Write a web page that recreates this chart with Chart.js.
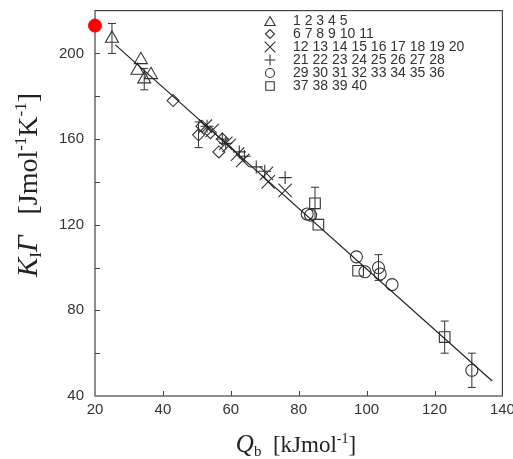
<!DOCTYPE html>
<html>
<head>
<meta charset="utf-8">
<script src="https://cdn.jsdelivr.net/npm/chart.js@4.4.1/dist/chart.umd.min.js"></script>
<style>
body{margin:0;background:#fff}
#wrap{width:513px;height:459px}
</style>
</head>
<body>
<div id="wrap"><canvas id="myScatter"></canvas></div>
<script>
// data (Qb, K1*Gamma)
const triX = [25, 32.5, 33.5, 34.5, 36.5];
const triY = [207, 192, 197, 188, 190];
const triErr = [7, 0, 0, 5, 0];

const diaX = [43, 50.5, 51.5, 54, 56.5, 57.5];
const diaY = [178, 162, 166, 163, 154, 160];
const diaErr = [0, 6, 0, 0, 0, 0];

const crossX = [52.5, 54.5, 58.5, 59.5, 62, 63.5, 70.5, 71, 76];
const crossY = [166, 164, 158, 157, 153, 150, 144, 140, 136];

const plusX = [53, 57.5, 58.5, 62.5, 64, 67.5, 70, 76];
const plusY = [166, 160, 158, 154, 152, 147, 145, 142];

const circX = [82.5, 83.5, 97, 99.5, 103.5, 104, 107.5, 131];
const circY = [125, 124.5, 105, 98, 100, 97, 92, 52];
const circErr = [0, 0, 0, 0, 6, 0, 0, 8];

const sqX = [84.8, 85.8, 97.5, 123];
const sqY = [130, 120, 98.5, 67.5];
const sqErr = [7.5, 0, 0, 7.5];

const fitX = [26, 137];
const fitY = [204, 47];

const markX = [20];
const markY = [213];

const legendRows = ['1 2 3 4 5', '6 7 8 9 10 11', '12 13 14 15 16 17 18 19 20',
    '21 22 23 24 25 26 27 28', '29 30 31 32 33 34 35 36', '37 38 39 40'];
const legendStyles = ['triangle', 'rectRot', 'crossRot', 'cross', 'circle', 'rect'];

const xTickVals = [20, 40, 60, 80, 100, 120, 140];
const yLabelVals = [40, 80, 120, 160, 200];

const pts = (xs, ys) => xs.map((x, i) => ({x: x, y: ys[i]}));

const INK = '#333';
const makeSet = (xs, ys, errs, style, r) => ({
    type: 'scatter',
    data: pts(xs, ys),
    errs: errs,
    pointStyle: style,
    pointRadius: r,
    pointHoverRadius: r,
    pointBorderWidth: 1.1,
    borderColor: INK,
    backgroundColor: 'rgba(0,0,0,0)'
});

const drawRich = (ctx, parts, cx, cy) => {
    let w = 0;
    parts.forEach(p => { ctx.font = p.font; w += ctx.measureText(p.t).width; });
    let x = cx - w / 2;
    ctx.textBaseline = 'alphabetic';
    ctx.textAlign = 'left';
    parts.forEach(p => {
        ctx.font = p.font;
        ctx.fillText(p.t, x, cy + (p.dy || 0));
        x += ctx.measureText(p.t).width;
    });
};

const decor = {
    id: 'decor',
    beforeDatasetsDraw(chart) {
        const ctx = chart.ctx;
        const a = chart.chartArea;
        const xs = chart.scales.x, ys = chart.scales.y;
        ctx.save();
        // frame
        ctx.strokeStyle = '#444';
        ctx.lineWidth = 1.2;
        ctx.strokeRect(a.left, a.top, a.right - a.left, a.bottom - a.top);
        // inward ticks
        ctx.lineWidth = 1;
        xs.ticks.forEach(t => {
            if (t.value <= xs.min || t.value >= xs.max) return;
            const px = Math.round(xs.getPixelForValue(t.value)) + 0.5;
            ctx.beginPath(); ctx.moveTo(px, a.bottom); ctx.lineTo(px, a.bottom - 5); ctx.stroke();
        });
        ys.ticks.forEach(t => {
            if (t.value <= ys.min || t.value >= ys.max) return;
            const py = Math.round(ys.getPixelForValue(t.value)) + 0.5;
            ctx.beginPath(); ctx.moveTo(a.left, py); ctx.lineTo(a.left + 5, py); ctx.stroke();
        });
        // error bars
        ctx.strokeStyle = INK;
        chart.data.datasets.forEach(ds => {
            if (!ds.errs) return;
            ds.data.forEach((p, i) => {
                const e = ds.errs[i];
                if (!e) return;
                const px = xs.getPixelForValue(p.x);
                const top = ys.getPixelForValue(p.y + e);
                const bot = ys.getPixelForValue(p.y - e);
                ctx.beginPath();
                ctx.moveTo(px, top); ctx.lineTo(px, bot);
                ctx.moveTo(px - 4, top); ctx.lineTo(px + 4, top);
                ctx.moveTo(px - 4, bot); ctx.lineTo(px + 4, bot);
                ctx.stroke();
            });
        });
        ctx.restore();
    },
    afterDraw(chart) {
        const ctx = chart.ctx;
        ctx.save();
        // legend
        ctx.strokeStyle = INK;
        ctx.lineWidth = 1.1;
        const sizes = [6, 4.5, 7.5, 5.5, 4.5, 6];
        legendRows.forEach((txt, i) => {
            const y = 21 + i * 13;
            ctx.fillStyle = 'rgba(0,0,0,0)';
            Chart.helpers.drawPoint(ctx, {pointStyle: legendStyles[i], radius: sizes[i], borderWidth: 1.1}, 270, y + (legendStyles[i] === 'triangle' ? 1.5 : 0));
            ctx.fillStyle = INK;
            ctx.font = '14px "Liberation Sans", Arial, sans-serif';
            ctx.textBaseline = 'middle';
            ctx.textAlign = 'left';
            ctx.fillText(txt, 293, y);
        });
        // axis titles
        ctx.fillStyle = '#222';
        const serif = '"Liberation Serif", "Times New Roman", serif';
        drawRich(ctx, [
            {t: 'Q', font: 'italic 25px ' + serif},
            {t: 'b', font: '15px ' + serif, dy: 4},
            {t: '  [kJmol', font: '23px ' + serif},
            {t: '-1', font: '14px ' + serif, dy: -9},
            {t: ']', font: '23px ' + serif}
        ], 296, 452);
        ctx.save();
        ctx.translate(37, 185);
        ctx.rotate(-Math.PI / 2);
        drawRich(ctx, [
            {t: 'K', font: 'italic 29px ' + serif},
            {t: 'I', font: '17px ' + serif, dy: 4},
            {t: 'Γ', font: 'italic 29px ' + serif},
            {t: '   [Jmol', font: '28px ' + serif},
            {t: '-1', font: '17px ' + serif, dy: -11},
            {t: 'K', font: '28px ' + serif},
            {t: '-1', font: '17px ' + serif, dy: -11},
            {t: ']', font: '28px ' + serif}
        ], 0, 0);
        ctx.restore();
        ctx.restore();
    }
};

const tickFont = {family: '"Liberation Sans", Arial, sans-serif', size: 15};

const config = {
    type: 'scatter',
    data: {
        datasets: [
            {
                type: 'line',
                data: pts(fitX, fitY),
                borderColor: '#222',
                borderWidth: 1.2,
                pointRadius: 0,
                fill: false
            },
            makeSet(triX, triY, triErr, 'triangle', 7.5),
            makeSet(diaX, diaY, diaErr, 'rectRot', 6),
            makeSet(crossX, crossY, null, 'crossRot', 9.5),
            makeSet(plusX, plusY, null, 'cross', 6.5),
            makeSet(circX, circY, circErr, 'circle', 6),
            makeSet(sqX, sqY, sqErr, 'rect', 7.5),
            {
                type: 'scatter',
                data: pts(markX, markY),
                pointRadius: 6.5,
                backgroundColor: '#f00',
                borderColor: '#f00',
                clip: false
            }
        ]
    },
    options: {
        responsive: true,
        maintainAspectRatio: false,
        animation: false,
        events: [],
        layout: {padding: {left: 0, right: 10, top: 8, bottom: 0}},
        plugins: {legend: {display: false}, tooltip: {enabled: false}},
        scales: {
            x: {
                type: 'linear',
                min: 20,
                max: 140,
                grid: {display: false, drawTicks: false},
                border: {display: false},
                afterBuildTicks: s => { s.ticks = xTickVals.map(v => ({value: v})); },
                ticks: {autoSkip: false, maxRotation: 0, padding: 5, color: INK, font: tickFont},
                afterFit: s => { s.height = 63; s.paddingLeft = 0; s.paddingRight = 0; }
            },
            y: {
                type: 'linear',
                min: 40,
                max: 220,
                grid: {display: false, drawTicks: false},
                border: {display: false},
                ticks: {
                    stepSize: 20,
                    autoSkip: false,
                    padding: 11,
                    color: INK,
                    font: tickFont,
                    callback: v => yLabelVals.includes(v) ? v : ''
                },
                afterFit: s => { s.width = 95; s.paddingTop = 0; s.paddingBottom = 0; }
            }
        }
    },
    plugins: [decor]
};

const ctx = document.getElementById('myScatter').getContext('2d');
const myScatter = new Chart(ctx, config);
</script>
</body>
</html>
